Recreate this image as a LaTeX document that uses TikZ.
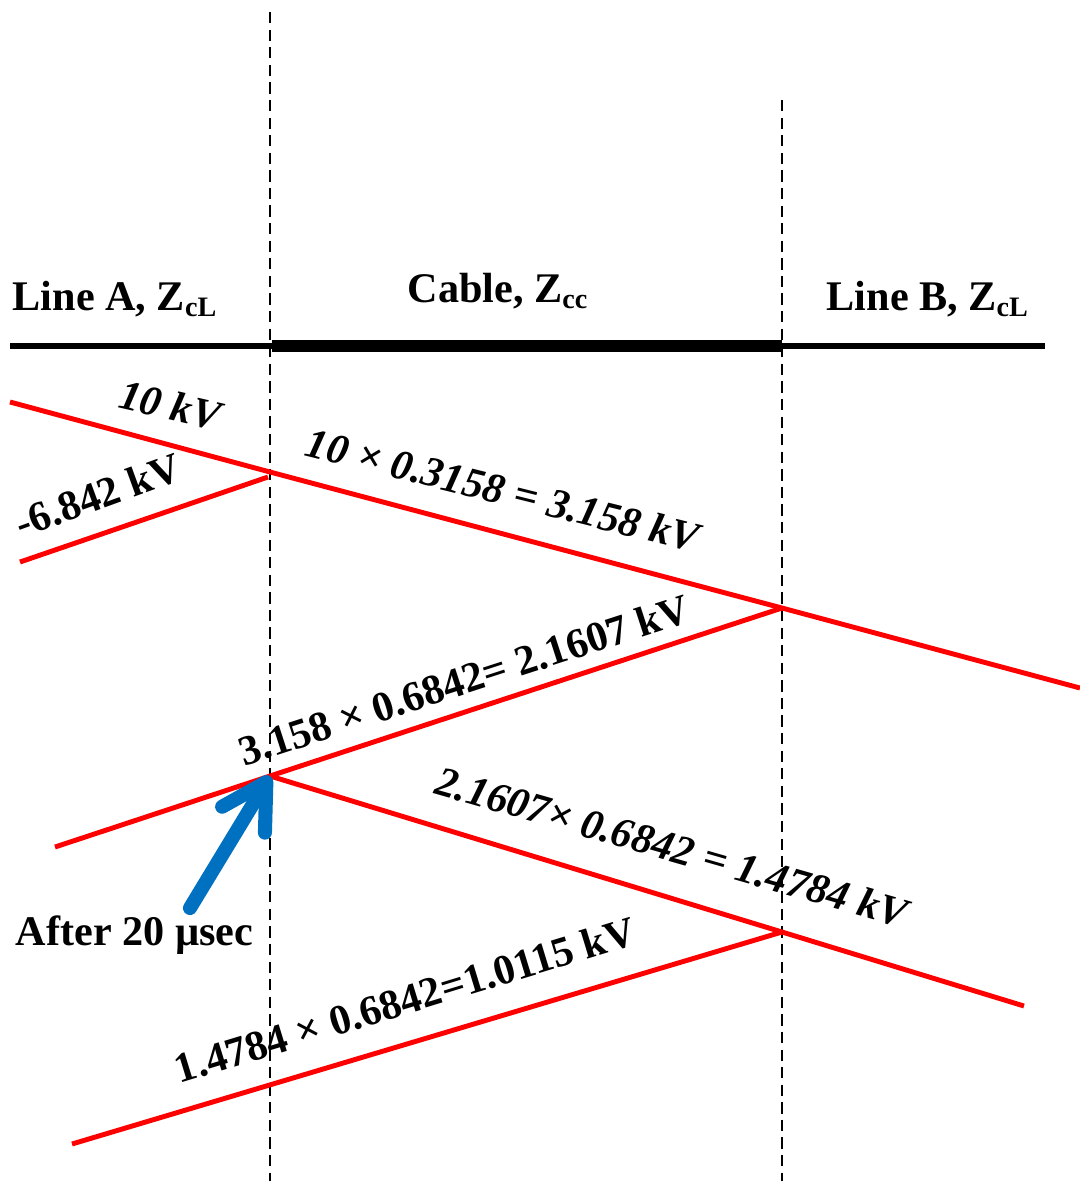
\documentclass[tikz,border=0pt]{standalone}
\usepackage{fontspec}
\setmainfont{Liberation Serif}
\usetikzlibrary{arrows.meta}
\definecolor{arrowblue}{RGB}{0,112,192}

\begin{document}
\begin{tikzpicture}[x=0.01cm, y=-0.01cm,
    wave/.style={red, line width=1.4pt},
    joint/.style={black, line width=0.7pt, dash pattern=on 3.2pt off 1.8pt},
    head/.style={inner sep=0pt, anchor=base west, font=\fontsize{12}{14}\selectfont\bfseries},
    lbl/.style={inner sep=0pt, font=\fontsize{12}{14}\selectfont\bfseries},
    ilbl/.style={inner sep=0pt, font=\fontsize{12}{14}\selectfont\bfseries\itshape}]
  \useasboundingbox (0,0) rectangle (1080,1181);

  % Junctions
  \coordinate (jAtop) at (270,12);
  \coordinate (jAbot) at (270,1181);
  \coordinate (jBtop) at (782,100);
  \coordinate (jBbot) at (782,1181);
  \draw[joint] (jAtop) -- (jAbot);
  \draw[joint] (jBtop) -- (jBbot);

  % Line A -- cable -- line B
  \coordinate (lineA) at (10,346);
  \coordinate (cableL) at (272,346);
  \coordinate (cableR) at (782,346);
  \coordinate (lineB) at (1045,346);
  \draw[line width=1.7pt] (lineA) -- (cableL);
  \draw[line width=3.4pt] (cableL) -- (cableR);
  \draw[line width=1.7pt] (cableR) -- (lineB);
  \node[head] (nameA) at (12,310) {Line A, Z\textsubscript{cL}};
  \node[head] (nameC) at (407,302) {Cable, Z\textsubscript{cc}};
  \node[head] (nameB) at (826,310) {Line B, Z\textsubscript{cL}};

  % Lattice of travelling waves
  \coordinate (inc) at (10,402);
  \coordinate (hitA1) at (270,472);
  \coordinate (hitB1) at (782,608);
  \coordinate (out1) at (1080,688);
  \coordinate (refl0) at (268,477);
  \coordinate (refl1) at (20,562);
  \coordinate (hitA2) at (270,776);
  \coordinate (out2) at (55,847);
  \coordinate (hitB2) at (782,932);
  \coordinate (out3) at (1024,1006);
  \coordinate (out4) at (72,1144);
  \draw[wave] (inc) -- (hitA1) -- (hitB1) -- (out1);
  \draw[wave] (refl0) -- (refl1);
  \draw[wave] (hitB1) -- (hitA2) -- (out2);
  \draw[wave] (hitA2) -- (hitB2) -- (out3);
  \draw[wave] (hitB2) -- (out4);

  % Values
  \node[ilbl, rotate=-13] (v0) at (170,405) {10 kV};
  \node[lbl, rotate=20] (r0) at (98,495) {-6.842 kV};
  \node[ilbl, rotate=-14] (v1) at (503,490) {10 × 0.3158 = 3.158 kV};
  \node[lbl, rotate=18] (v2) at (464,680) {3.158 × 0.6842= 2.1607 kV};
  \node[ilbl, rotate=-16] (v3) at (672,847) {2.1607× 0.6842 = 1.4784 kV};
  \node[lbl, rotate=17] (v4) at (405,1000) {1.4784 × 0.6842=1.0115 kV};

  % Time mark
  \node[head] (after) at (15,945) {After 20 µsec};
  \coordinate (arrTail) at (190,908);
  \draw[arrowblue, line width=4pt, line cap=round,
        -{Straight Barb[length=4.4mm, width=5mm, round]}] (arrTail) -- (hitA2);
\end{tikzpicture}
\end{document}
